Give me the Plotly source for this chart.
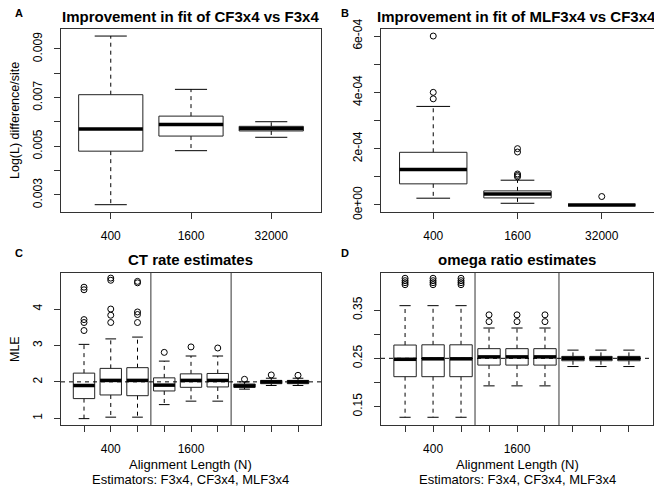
import plotly.graph_objects as go

W, H = 662, 488
OFF = 8  # the page body margin moves the figure by 8px
FONT = "Liberation Sans, Arial, sans-serif"

# ---- data ----
# A: improvement in fit of CF3x4 vs F3x4
a_ticks = ["400", "1600", "32000"]
a_low = [0.0026, 0.00482, 0.00537]
a_q1 = [0.0048, 0.00542, 0.00563]
a_med = [0.00571, 0.0059, 0.00573]
a_q3 = [0.00712, 0.00624, 0.00582]
a_high = [0.00953, 0.00734, 0.00601]
a_out = [[], [], []]

# B: improvement in fit of MLF3x4 vs CF3x4
b_ticks = ["400", "1600", "32000"]
b_low = [0.24e-4, 0.06e-4, 0.0]
b_q1 = [0.75e-4, 0.25e-4, 0.0]
b_med = [1.26e-4, 0.39e-4, 0.0]
b_q3 = [1.87e-4, 0.50e-4, 0.004e-4]
b_high = [3.5e-4, 0.88e-4, 0.008e-4]
b_out = [[6.0e-4, 4.0e-4, 3.77e-4],
         [2.0e-4, 1.88e-4, 1.1e-4, 1.05e-4, 1.0e-4],
         [0.3e-4]]

# C: CT rate estimates (F3x4, CF3x4, MLF3x4 for N = 400, 1600, 32000)
c_ticks = ["", "400", "", "", "1600", "", "", "", ""]
c_low = [0.99, 1.03, 1.03, 1.375, 1.47, 1.47, 1.80, 1.90, 1.90]
c_q1 = [1.54, 1.64, 1.62, 1.75, 1.85, 1.86, 1.85, 1.95, 1.95]
c_med = [1.90, 2.04, 2.04, 1.91, 2.04, 2.04, 1.89, 2.00, 2.00]
c_q3 = [2.24, 2.37, 2.39, 2.11, 2.22, 2.23, 1.94, 2.04, 2.04]
c_high = [3.03, 3.18, 3.23, 2.57, 2.71, 2.71, 2.00, 2.10, 2.10]
c_out = [[4.6, 4.53, 3.71, 3.63, 3.41],
         [4.85, 4.79, 4.0, 3.83, 3.63],
         [4.76, 4.72, 3.92, 3.85, 3.63],
         [2.81], [2.96], [2.93],
         [2.07], [2.19], [2.18]]
c_true = 2.0

# D: omega ratio estimates
d_ticks = ["", "400", "", "", "1600", "", "", "", ""]
d_low = [0.128, 0.128, 0.128, 0.193, 0.193, 0.193, 0.233, 0.233, 0.233]
d_q1 = [0.212, 0.212, 0.212, 0.236, 0.236, 0.236, 0.245, 0.245, 0.245]
d_med = [0.248, 0.249, 0.249, 0.253, 0.253, 0.253, 0.250, 0.250, 0.250]
d_q3 = [0.2775, 0.278, 0.278, 0.270, 0.270, 0.270, 0.254, 0.254, 0.254]
d_high = [0.359, 0.359, 0.359, 0.3127, 0.3127, 0.3127, 0.267, 0.267, 0.267]
d_out = [[0.4157, 0.4107, 0.4066, 0.4024],
         [0.4157, 0.4107, 0.4066, 0.4024],
         [0.4157, 0.4107, 0.4066, 0.4024],
         [0.34, 0.326], [0.34, 0.326], [0.34, 0.326],
         [], [], []]
d_true = 0.25


def px_x(v):
    return (v - OFF) / W


def px_y(v):
    return 1 - (v - OFF) / H


fig = go.Figure()


def add_boxes(xa, ya, low, q1, med, q3, high, outs):
    hw, sw = 0.4, 0.2
    wx, wy, sx, sy, bx, by, mx, my, ox, oy = ([] for _ in range(10))
    for i in range(len(med)):
        p = i + 1
        wx += [p, p, None, p, p, None]
        wy += [q3[i], high[i], None, q1[i], low[i], None]
        sx += [p - sw, p + sw, None, p - sw, p + sw, None]
        sy += [high[i], high[i], None, low[i], low[i], None]
        bx += [p - hw, p + hw, p + hw, p - hw, p - hw, None]
        by += [q1[i], q1[i], q3[i], q3[i], q1[i], None]
        mx += [p - hw, p + hw, None]
        my += [med[i], med[i], None]
        ox += [p] * len(outs[i])
        oy += outs[i]
    common = dict(xaxis=xa, yaxis=ya, showlegend=False, hoverinfo="skip")
    fig.add_trace(go.Scatter(x=wx, y=wy, mode="lines",
                             line=dict(color="black", width=1, dash="4px,4px"), **common))
    fig.add_trace(go.Scatter(x=sx, y=sy, mode="lines",
                             line=dict(color="black", width=1), **common))
    fig.add_trace(go.Scatter(x=bx, y=by, mode="lines",
                             line=dict(color="#222", width=1), **common))
    fig.add_trace(go.Scatter(x=mx, y=my, mode="lines",
                             line=dict(color="black", width=3.5), **common))
    fig.add_trace(go.Scatter(x=ox, y=oy, mode="markers",
                             marker=dict(symbol="circle-open", size=6, color="black",
                                         line=dict(width=1)), **common))


add_boxes("x", "y", a_low, a_q1, a_med, a_q3, a_high, a_out)
add_boxes("x2", "y2", b_low, b_q1, b_med, b_q3, b_high, b_out)
add_boxes("x3", "y3", c_low, c_q1, c_med, c_q3, c_high, c_out)
add_boxes("x4", "y4", d_low, d_q1, d_med, d_q3, d_high, d_out)

# panel frames in page pixels (left, right, top, bottom)
frames = {
    "": (61, 321, 29, 212),
    "2": (381, 654, 29, 212),
    "3": (61, 321, 273, 425),
    "4": (381, 653, 273, 425),
}

axis_common = dict(showline=True, mirror=True, linecolor="#333", linewidth=1,
                   ticks="outside", ticklen=6, tickcolor="#333", showgrid=False,
                   zeroline=False, automargin=False,
                   tickfont=dict(size=12, color="black", family=FONT))

xranges = {"": [0.38, 3.62], "2": [0.38, 3.62], "3": [0.14, 9.86], "4": [0.14, 9.86]}
xticks = {"": a_ticks, "2": b_ticks, "3": c_ticks, "4": d_ticks}
yspec = {
    "": ([0.0023, 0.00982], [0.003, 0.004, 0.005, 0.006, 0.007, 0.008, 0.009],
         ["0.003", "", "0.005", "", "0.007", "", "0.009"]),
    "2": ([-0.25e-4, 6.25e-4], [0, 1e-4, 2e-4, 3e-4, 4e-4, 5e-4, 6e-4],
          ["0e+00", "", "2e-04", "", "4e-04", "", "6e-04"]),
    "3": ([0.815, 4.99], [1, 2, 3, 4], ["1", "2", "3", "4"]),
    "4": ([0.112, 0.4266], [0.15, 0.2, 0.25, 0.3, 0.35],
          ["0.15", "", "0.25", "", "0.35"]),
}

for k, (l, r, t, b) in frames.items():
    yr, yv, yt = yspec[k]
    n = len(xticks[k])
    fig.update_layout({
        "xaxis" + k: dict(domain=[px_x(l), px_x(r)], anchor="y" + k, range=xranges[k],
                          tickvals=list(range(1, n + 1)), ticktext=xticks[k],
                          ticklabelstandoff=7, **axis_common),
        "yaxis" + k: dict(domain=[px_y(b), px_y(t)], anchor="x" + k, range=yr,
                          tickvals=yv, ticktext=yt, tickangle=-90,
                          ticklabelstandoff=7, **axis_common),
    })

# separators between alignment lengths and true-value reference lines
for k, ref in (("3", c_true), ("4", d_true)):
    for xs in (3.5, 6.5):
        fig.add_shape(type="line", xref="x" + k, yref="y" + k + " domain",
                      x0=xs, x1=xs, y0=0, y1=1, line=dict(color="#333", width=1))
    fig.add_shape(type="line", xref="x" + k + " domain", yref="y" + k,
                  x0=0, x1=1, y0=ref, y1=ref,
                  line=dict(color="black", width=1, dash="4px,4px"))

texts = [
    ("A", 19, 13, 11, True, 0),
    ("B", 345, 13, 11, True, 0),
    ("C", 19, 253, 11, True, 0),
    ("D", 345, 253, 11, True, 0),
    ("Improvement in fit of CF3x4 vs F3x4", 191, 16, 15, True, 0),
    ("Improvement in fit of MLF3x4 vs CF3x4", 516, 16, 15, True, 0),
    ("CT rate estimates", 191, 259, 15, True, 0),
    ("omega ratio estimates", 517, 259, 15, True, 0),
    ("Log(L) difference/site", 15, 121, 12.5, False, -90),
    ("MLE", 15, 349, 12.5, False, -90),
    ("Alignment Length (N)", 191, 464, 13, False, 0),
    ("Estimators: F3x4, CF3x4, MLF3x4", 191, 479, 13, False, 0),
    ("Alignment Length (N)", 517, 464, 13, False, 0),
    ("Estimators: F3x4, CF3x4, MLF3x4", 517, 479, 13, False, 0),
]
for txt, x, y, size, bold, ang in texts:
    fig.add_annotation(text="<b>%s</b>" % txt if bold else txt,
                       x=px_x(x), y=px_y(y), xref="paper", yref="paper",
                       xanchor="center", yanchor="middle", showarrow=False,
                       textangle=ang, font=dict(size=size, color="black", family=FONT))

fig.update_layout(width=W, height=H, margin=dict(l=0, r=0, t=0, b=0),
                  paper_bgcolor="white", plot_bgcolor="white",
                  font=dict(family=FONT, color="black"))

fig.write_html("out.html")
